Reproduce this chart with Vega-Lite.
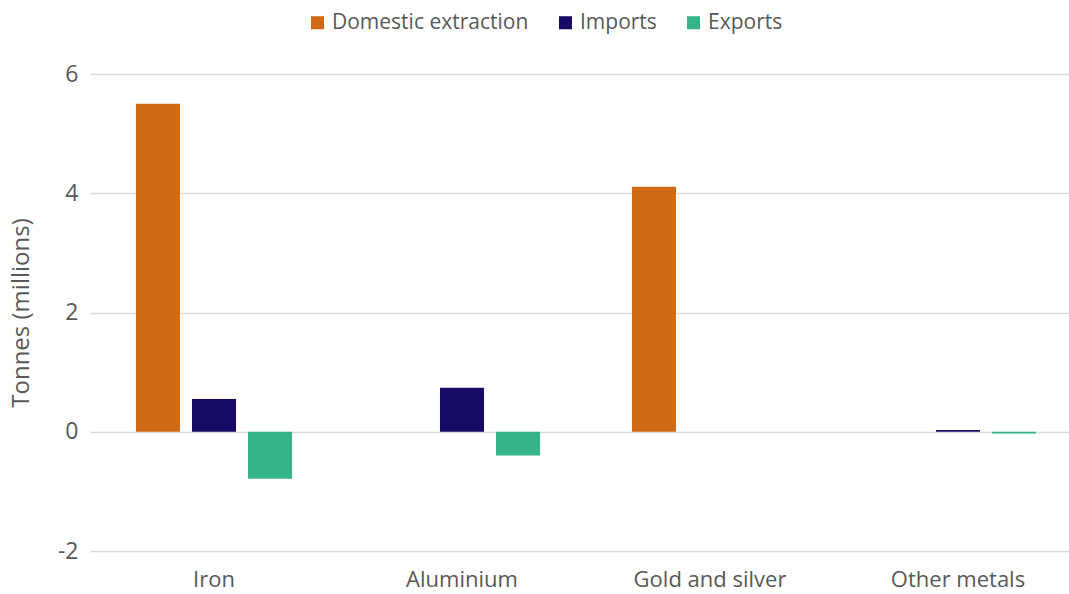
{
  "$schema": "https://vega.github.io/schema/vega-lite/v6.json",
  "autosize": "none",
  "padding": {"left": 90, "top": 74, "right": 0, "bottom": 43},
  "width": 992,
  "height": 477,
  "background": "white",
  "config": {
    "font": "Open Sans",
    "view": {"stroke": null}
  },
  "data": {
    "values": [
      {"metal": "Iron", "flow": "Domestic extraction", "value": 5.5},
      {"metal": "Iron", "flow": "Imports", "value": 0.55},
      {"metal": "Iron", "flow": "Exports", "value": -0.79},
      {"metal": "Aluminium", "flow": "Domestic extraction", "value": 0},
      {"metal": "Aluminium", "flow": "Imports", "value": 0.74},
      {"metal": "Aluminium", "flow": "Exports", "value": -0.4},
      {"metal": "Gold and silver", "flow": "Domestic extraction", "value": 4.11},
      {"metal": "Gold and silver", "flow": "Imports", "value": 0},
      {"metal": "Gold and silver", "flow": "Exports", "value": 0},
      {"metal": "Other metals", "flow": "Domestic extraction", "value": 0},
      {"metal": "Other metals", "flow": "Imports", "value": 0.03},
      {"metal": "Other metals", "flow": "Exports", "value": -0.03}
    ]
  },
  "mark": {"type": "bar"},
  "encoding": {
    "x": {
      "field": "metal",
      "type": "nominal",
      "sort": ["Iron", "Aluminium", "Gold and silver", "Other metals"],
      "scale": {"paddingInner": 0, "paddingOuter": 0},
      "axis": {
        "title": null,
        "labelAngle": 0,
        "labelFontSize": 22,
        "labelColor": "#595959",
        "domain": false,
        "ticks": false,
        "labelPadding": 18
      }
    },
    "xOffset": {
      "field": "flow",
      "type": "nominal",
      "sort": ["Domestic extraction", "Imports", "Exports"],
      "scale": {"paddingInner": 0.214, "paddingOuter": 0.82}
    },
    "y": {
      "field": "value",
      "type": "quantitative",
      "scale": {"domain": [-2, 6], "nice": false},
      "axis": {
        "title": "Tonnes (millions)",
        "titleFontSize": 24,
        "titleFontWeight": "normal",
        "titleColor": "#595959",
        "titlePadding": 24,
        "values": [-2, 0, 2, 4, 6],
        "labelExpr": "replace(datum.label, '−', '-')",
        "labelFontSize": 23,
        "labelColor": "#595959",
        "labelPadding": 12,
        "domain": false,
        "ticks": false,
        "gridColor": "#d9d9d9",
        "gridWidth": 1.5
      }
    },
    "color": {
      "field": "flow",
      "type": "nominal",
      "sort": ["Domestic extraction", "Imports", "Exports"],
      "scale": {
        "domain": ["Domestic extraction", "Imports", "Exports"],
        "range": ["#D06A17", "#160A66", "#34B488"]
      },
      "legend": {
        "title": null,
        "orient": "none",
        "direction": "horizontal",
        "legendX": 217,
        "legendY": -62,
        "symbolType": "square",
        "symbolSize": 170,
        "symbolStrokeWidth": 0,
        "labelFontSize": 21,
        "labelLimit": 400,
        "labelColor": "#595959",
        "columnPadding": 26,
        "labelOffset": 4
      }
    }
  }
}
